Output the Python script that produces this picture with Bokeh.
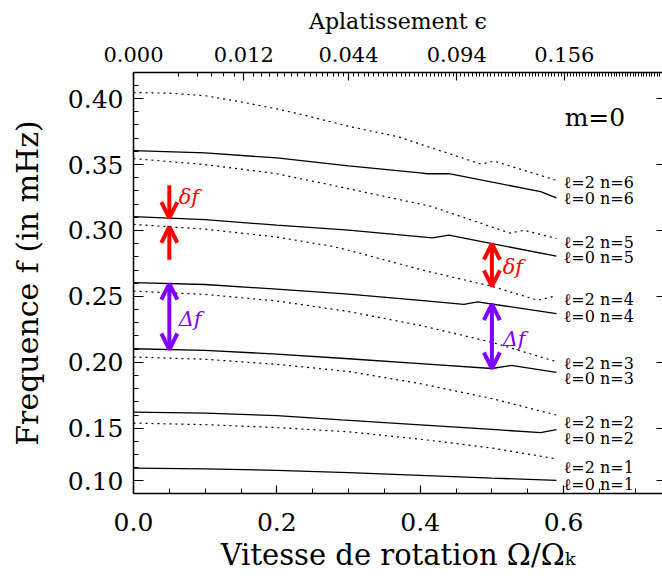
import numpy as np
from bokeh.plotting import figure
from bokeh.models import (Range1d, LinearAxis, FixedTicker, Arrow, OpenHead, Label,
                          ColumnDataSource, PrintfTickFormatter)
from bokeh.core.properties import value
from bokeh.embed import file_html
from bokeh.resources import INLINE

FONT = "DejaVu Serif"

# ---------------- data ----------------
# l = 0 modes (solid)
om_l0_n1 = [0.0, 0.1, 0.2, 0.3, 0.4, 0.5, 0.59]
f_l0_n1 = [0.1197, 0.1192, 0.1180, 0.1163, 0.1143, 0.1122, 0.1104]
om_l0_n2 = [0.0, 0.1, 0.2, 0.29, 0.4, 0.5, 0.568, 0.59]
f_l0_n2 = [0.1622, 0.1615, 0.1596, 0.1564, 0.1526, 0.1491, 0.1466, 0.1490]
om_l0_n3 = [0.0, 0.1, 0.2, 0.3, 0.4, 0.5, 0.527, 0.59]
f_l0_n3 = [0.2103, 0.2091, 0.2062, 0.2027, 0.1990, 0.1953, 0.1976, 0.1923]
om_l0_n4 = [0.0, 0.1, 0.2, 0.3, 0.4, 0.461, 0.48, 0.59]
f_l0_n4 = [0.2604, 0.2590, 0.2555, 0.2517, 0.2470, 0.2439, 0.2458, 0.2369]
om_l0_n5 = [0.0, 0.1, 0.2, 0.3, 0.417, 0.44, 0.5, 0.59]
f_l0_n5 = [0.3105, 0.3082, 0.3040, 0.3002, 0.2943, 0.2965, 0.2900, 0.2805]
om_l0_n6 = [0.0, 0.1, 0.2, 0.3, 0.40, 0.41, 0.44, 0.568, 0.59]
f_l0_n6 = [0.3605, 0.3588, 0.3550, 0.3490, 0.3436, 0.3430, 0.3431, 0.3294, 0.3247]

# l = 2 modes (dotted)
om_l2_n1 = [0.0, 0.1, 0.2, 0.3, 0.4, 0.5, 0.59]
f_l2_n1 = [0.1539, 0.1527, 0.1505, 0.1473, 0.1417, 0.1350, 0.1268]
om_l2_n2 = [0.0, 0.1, 0.2, 0.3, 0.4, 0.5, 0.59]
f_l2_n2 = [0.2040, 0.2023, 0.1985, 0.1930, 0.1838, 0.1725, 0.1600]
om_l2_n3 = [0.0, 0.1, 0.2, 0.3, 0.4, 0.5, 0.59]
f_l2_n3 = [0.2540, 0.2515, 0.2465, 0.2385, 0.2280, 0.2152, 0.2005]
om_l2_n4 = [0.0, 0.1, 0.2, 0.275, 0.3, 0.405, 0.501, 0.564, 0.59]
f_l2_n4 = [0.3046, 0.3010, 0.2950, 0.2882, 0.2850, 0.2697, 0.2575, 0.2470, 0.2505]
om_l2_n5 = [0.0, 0.1, 0.2, 0.289, 0.415, 0.525, 0.545, 0.59]
f_l2_n5 = [0.3545, 0.3500, 0.3430, 0.3329, 0.3183, 0.2980, 0.3001, 0.2938]
om_l2_n6 = [0.0, 0.05, 0.1, 0.15, 0.2, 0.23, 0.30, 0.37, 0.485, 0.503, 0.59]
f_l2_n6 = [0.4046, 0.4041, 0.4022, 0.3975, 0.3922, 0.3886, 0.3790, 0.3709, 0.3503, 0.3526, 0.3380]

# curve labels (text and their vertical positions)
curve_labels = ["ℓ=2 n=6", "ℓ=0 n=6", "ℓ=2 n=5", "ℓ=0 n=5", "ℓ=2 n=4", "ℓ=0 n=4",
                "ℓ=2 n=3", "ℓ=0 n=3", "ℓ=2 n=2", "ℓ=0 n=2", "ℓ=2 n=1", "ℓ=0 n=1"]
curve_label_y = [0.3363, 0.3241, 0.2912, 0.2798, 0.2477, 0.2348,
                 0.1989, 0.1876, 0.1546, 0.1425, 0.1205, 0.1074]

# axes ticks
x_major = [0.0, 0.2, 0.4, 0.6]
y_major = [0.11, 0.15, 0.2, 0.25, 0.3, 0.35, 0.4]
y_major_labels = ["0.10", "0.15", "0.20", "0.25", "0.30", "0.35", "0.40"]
top_omega = [0.0, 0.154, 0.300, 0.451, 0.601]
top_eps_labels = ["0.000", "0.012", "0.044", "0.094", "0.156"]
top_eps = [0.0, 0.012, 0.044, 0.094, 0.156]

XMAX = 0.738
YMIN, YMAX = 0.1005, 0.4198

# ---------------- figure ----------------
p = figure(width=662, height=576, x_range=Range1d(0, XMAX), y_range=Range1d(YMIN, YMAX),
           output_backend="svg", toolbar_location=None,
           x_axis_location=None, y_axis_location=None,
           min_border_left=133, min_border_right=0, min_border_top=72, min_border_bottom=83)
p.outline_line_color = None
for g in p.grid:
    g.visible = False
p.background_fill_color = "white"
p.border_fill_color = "white"


def style_axis(ax, major_in, minor_in, lab_size, title_size):
    ax.axis_line_color = "black"
    ax.axis_line_width = 1.5
    ax.major_tick_in = major_in
    ax.major_tick_out = 0
    ax.minor_tick_in = minor_in
    ax.minor_tick_out = 0
    ax.major_tick_line_color = "black"
    ax.minor_tick_line_color = "black"
    ax.major_tick_line_width = 1.2
    ax.minor_tick_line_width = 1
    ax.major_label_text_font = FONT
    ax.major_label_text_font_size = lab_size
    ax.major_label_text_color = "black"
    ax.axis_label_text_font = FONT
    ax.axis_label_text_font_size = title_size
    ax.axis_label_text_font_style = "normal"
    ax.axis_label_text_color = "black"


# bottom axis
x_minor = [round(0.05 * i, 2) for i in range(0, 15)]
bottom = LinearAxis(ticker=FixedTicker(ticks=x_major, minor_ticks=x_minor),
                    formatter=PrintfTickFormatter(format="%.1f"),
                    axis_label="Vitesse de rotation Ω/Ωₖ")
style_axis(bottom, 8, 5, "25px", "29px")
bottom.major_label_standoff = 19
bottom.axis_label_standoff = 4
p.add_layout(bottom, "below")

# left axis
y_minor = [round(0.01 * i, 2) for i in range(11, 42)]
left = LinearAxis(ticker=FixedTicker(ticks=y_major, minor_ticks=y_minor),
                  formatter=PrintfTickFormatter(format="%.2f"),
                  major_label_overrides={t: s for t, s in zip(y_major, y_major_labels)},
                  axis_label="Frequence f (in mHz)")
style_axis(left, 10, 5, "25px", "30px")
left.major_label_standoff = 10
left.axis_label_standoff = 20
p.add_layout(left, "left")

# top axis (flattening), minor ticks every 0.002 in epsilon
sq = np.sqrt(top_eps)
slope = (top_omega[-1] - top_omega[-2]) / (sq[-1] - sq[-2])
eps_minor = np.arange(0.002, 0.26, 0.002)
s_minor = np.sqrt(eps_minor)
om_minor = np.where(s_minor <= sq[-1], np.interp(s_minor, sq, top_omega),
                    top_omega[-1] + (s_minor - sq[-1]) * slope)
om_minor = [float(v) for v in om_minor if v < XMAX]
top = LinearAxis(ticker=FixedTicker(ticks=top_omega, minor_ticks=om_minor),
                 major_label_overrides={t: s for t, s in zip(top_omega, top_eps_labels)},
                 axis_label="Aplatissement ϵ")
style_axis(top, 8, 4, "21px", "22px")
top.major_label_standoff = 11
top.axis_label_standoff = 10
p.add_layout(top, "above")

# right axis: ticks only
right = LinearAxis(ticker=FixedTicker(ticks=y_major, minor_ticks=[]),
                   major_label_overrides={t: "" for t in y_major})
style_axis(right, 6, 0, "10px", "10px")
right.axis_line_color = None
p.add_layout(right, "right")

# ---------------- curves ----------------
l0 = [(om_l0_n1, f_l0_n1), (om_l0_n2, f_l0_n2), (om_l0_n3, f_l0_n3),
      (om_l0_n4, f_l0_n4), (om_l0_n5, f_l0_n5), (om_l0_n6, f_l0_n6)]
l2 = [(om_l2_n1, f_l2_n1), (om_l2_n2, f_l2_n2), (om_l2_n3, f_l2_n3),
      (om_l2_n4, f_l2_n4), (om_l2_n5, f_l2_n5), (om_l2_n6, f_l2_n6)]
for om, f in l0:
    p.line(om, f, line_color="black", line_width=1.3)
for om, f in l2:
    p.line(om, f, line_color="black", line_width=1.2, line_dash="2 4")

src = ColumnDataSource(dict(x=[0.60] * len(curve_labels), y=curve_label_y, text=curve_labels))
p.text(x="x", y="y", text="text", source=src, text_font=value(FONT), text_font_size="16px",
       text_baseline="middle", text_align="left", text_color="black")

p.add_layout(Label(x=0.6437, y=0.3858, text="m=0", text_font=FONT, text_font_size="25px",
                   text_align="center", text_baseline="middle", text_color="black"))

# ---------------- arrows ----------------
RED = "#ff0000"
PURPLE = "#8000ff"


def f_at(series, x):
    return float(np.interp(x, series[0], series[1]))


def head(c):
    return OpenHead(size=16, line_width=4, line_color=c)


xa, xb = 0.05, 0.5
# delta f (small separation) at Omega = 0.05: two inward arrows
top_y = f_at(l0[4], xa)
bot_y = f_at(l2[3], xa)
p.add_layout(Arrow(x_start=xa, y_start=top_y + 0.025, x_end=xa, y_end=top_y,
                   end=head(RED), line_color=RED, line_width=4))
p.add_layout(Arrow(x_start=xa, y_start=bot_y - 0.025, x_end=xa, y_end=bot_y,
                   end=head(RED), line_color=RED, line_width=4))
p.add_layout(Label(x=xa + 0.013, y=top_y + 0.016, text="δf", text_font=FONT,
                   text_font_style="italic", text_font_size="21px", text_color=RED,
                   text_baseline="middle"))
# delta f at Omega = 0.5: double arrow
p.add_layout(Arrow(x_start=xb, y_start=f_at(l2[3], xb), x_end=xb, y_end=f_at(l0[4], xb),
                   start=head(RED), end=head(RED), line_color=RED, line_width=4))
p.add_layout(Label(x=xb + 0.015, y=0.5 * (f_at(l2[3], xb) + f_at(l0[4], xb)) - 0.0015,
                   text="δf", text_font=FONT, text_font_style="italic", text_font_size="21px",
                   text_color=RED, text_baseline="middle"))
# Delta f (large separation)
for xx, lab_dx in ((xa, 0.013), (xb, 0.015)):
    y1 = f_at(l0[2], xx)
    y2 = f_at(l0[3], xx)
    p.add_layout(Arrow(x_start=xx, y_start=y1, x_end=xx, y_end=y2,
                       start=head(PURPLE), end=head(PURPLE), line_color=PURPLE, line_width=4))
    p.add_layout(Label(x=xx + lab_dx, y=0.5 * (y1 + y2) - 0.002, text="Δf", text_font=FONT,
                       text_font_style="italic", text_font_size="21px", text_color=PURPLE,
                       text_baseline="middle"))

open("out.html", "w").write(file_html(p, INLINE))
